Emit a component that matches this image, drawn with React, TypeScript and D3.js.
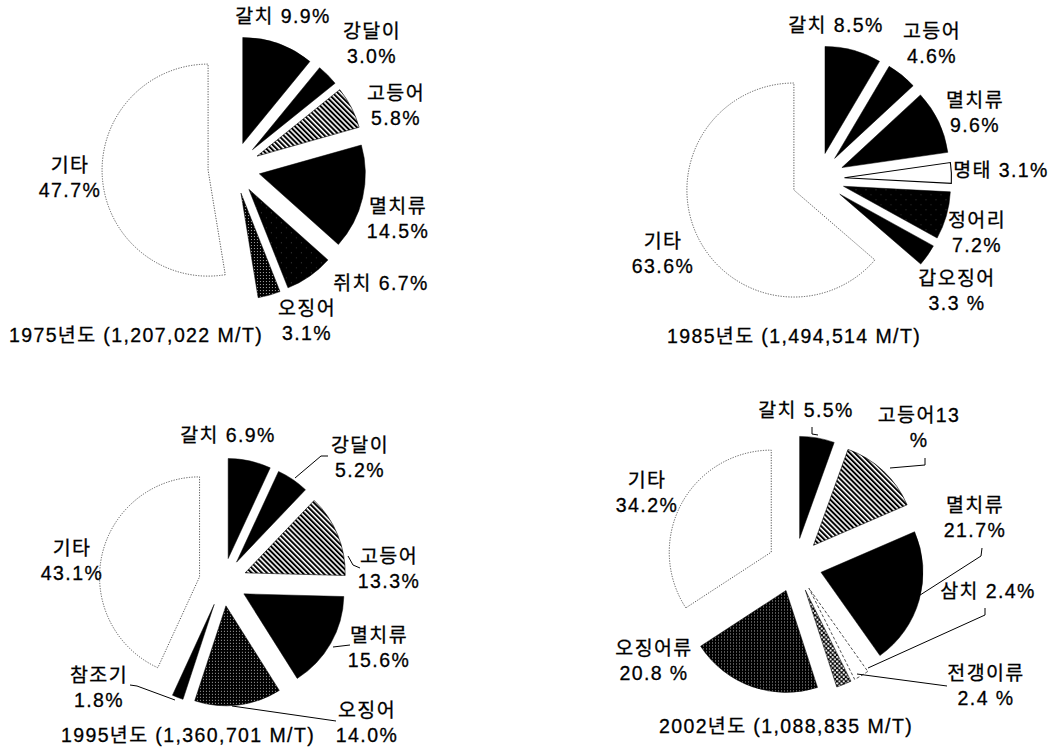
import React from 'react';
import * as d3 from 'd3';

// ---------- data ----------
const names1975 = ['갈치', '강달이', '고등어', '멸치류', '쥐치', '오징어', '기타'];
const values1975 = [9.9, 3.0, 5.8, 14.5, 6.7, 3.1, 47.7];
const labels1975 = [['갈치 9.9%'], ['강달이', '3.0%'], ['고등어', '5.8%'], ['멸치류', '14.5%'], ['쥐치 6.7%'], ['오징어', '3.1%'], ['기타', '47.7%']];
const title1975 = '1975년도 (1,207,022 M/T)';

const names1985 = ['갈치', '고등어', '멸치류', '명태', '정어리', '갑오징어', '기타'];
const values1985 = [8.5, 4.6, 9.6, 3.1, 7.2, 3.3, 63.6];
const labels1985 = [['갈치 8.5%'], ['고등어', '4.6%'], ['멸치류', '9.6%'], ['명태 3.1%'], ['정어리', '7.2%'], ['갑오징어', '3.3 %'], ['기타', '63.6%']];
const title1985 = '1985년도 (1,494,514 M/T)';

const names1995 = ['갈치', '강달이', '고등어', '멸치류', '오징어', '참조기', '기타'];
const values1995 = [6.9, 5.2, 13.3, 15.6, 14.0, 1.8, 43.1];
const labels1995 = [['갈치 6.9%'], ['강달이', '5.2%'], ['고등어', '13.3%'], ['멸치류', '15.6%'], ['오징어', '14.0%'], ['참조기', '1.8%'], ['기타', '43.1%']];
const title1995 = '1995년도 (1,360,701 M/T)';

const names2002 = ['갈치', '고등어', '멸치류', '삼치', '전갱이류', '오징어류', '기타'];
const values2002 = [5.5, 13, 21.7, 2.4, 2.4, 20.8, 34.2];
const labels2002 = [['갈치 5.5%'], ['고등어13', '%'], ['멸치류', '21.7%'], ['삼치 2.4%'], ['전갱이류', '2.4 %'], ['오징어류', '20.8 %'], ['기타', '34.2%']];
const title2002 = '2002년도 (1,088,835 M/T)';

// ---------- styles / layout ----------
const kinds1975 = ['black', 'black', 'stripes', 'black', 'sparse', 'dots', 'other'];
const kinds1985 = ['black', 'black', 'black', 'outline', 'sparse', 'black', 'other'];
const kinds1995 = ['black', 'black', 'stripes', 'black', 'dots', 'black', 'other'];
const kinds2002 = ['black', 'stripes', 'black', 'dashed', 'checker', 'dots', 'other'];

const geo1975 = { cx: 234, cy: 168, r: 106, explode: 26 };
const geo1985 = { cx: 818, cy: 179, r: 107, explode: 26.5 };
const geo1995 = { cx: 223, cy: 582, r: 100, explode: 24 };
const geo2002 = { cx: 795, cy: 565, r: 102, explode: 27 };

const labelPos1975 = [[283, 23], [372, 38], [396, 100], [398, 213], [381, 290], [307, 315], [70, 172]];
const labelPos1985 = [[836, 32], [932, 38], [975, 107], [1001, 177], [977, 227], [957, 285], [663, 248]];
const labelPos1995 = [[228, 442], [360, 452], [389, 563], [379, 642], [367, 717], [99, 682], [72, 555]];
const labelPos2002 = [[806, 417], [919, 422], [975, 512], [988, 598], [986, 680], [654, 655], [647, 487]];

const titlePos1975 = [136, 342];
const titlePos1985 = [794, 343];
const titlePos1995 = [188, 742];
const titlePos2002 = [786, 733];

const leaders1975: number[][][] = [];
const leaders1985: number[][][] = [];
const leaders1995 = [
  [[328, 456], [321, 456], [295, 478]],
  [[360, 568], [353, 565], [348, 556]],
  [[350, 645], [333, 647]],
  [[336, 721], [232, 706]],
  [[130, 685], [137, 686], [175, 700]],
];
const leaders2002 = [
  [[812, 427], [812, 434], [818, 435]],
  [[925, 458], [925, 465], [890, 468]],
  [[982, 548], [981, 556], [917, 597]],
  [[985, 608], [985, 615], [868, 668]],
  [[947, 686], [857, 674]],
];

const FONT = "'Liberation Sans', 'Noto Sans CJK KR', sans-serif";
const FONT_SIZE = 19.5;
const LETTER = 1.4;
const LINE_H = 24.5;

function styleFor(kind: string) {
  switch (kind) {
    case 'black': return { fill: '#000', stroke: '#000', strokeWidth: 0.5 };
    case 'stripes': return { fill: 'url(#stripes)', stroke: '#000', strokeWidth: 0.6 };
    case 'sparse': return { fill: 'url(#sparse)', stroke: '#000', strokeWidth: 0.5 };
    case 'dots': return { fill: 'url(#dots)', stroke: '#000', strokeWidth: 0.5 };
    case 'checker': return { fill: 'url(#checker)', stroke: '#000', strokeWidth: 0.5 };
    case 'outline': return { fill: '#fff', stroke: '#000', strokeWidth: 1.1 };
    case 'dashed': return { fill: '#fff', stroke: '#222', strokeWidth: 0.8, strokeDasharray: '3 2' };
    default: return { fill: '#fff', stroke: '#444', strokeWidth: 0.9, strokeDasharray: '1.2 1.4' };
  }
}

type Geo = { cx: number; cy: number; r: number; explode: number };

function ExplodedPie(props: {
  geo: Geo; values: number[]; kinds: string[]; labels: string[][]; labelPos: number[][];
  leaders: number[][][]; title: string; titlePos: number[]; names: string[];
}) {
  const { geo, values, kinds, labels, labelPos, leaders, title, titlePos, names } = props;
  const arcs = d3.pie<number>().sort(null).value((d) => d)(values);
  const arcGen = d3.arc<d3.PieArcDatum<number>>().innerRadius(0).outerRadius(geo.r);
  const line = d3.line<number[]>().x((p) => p[0]).y((p) => p[1]);
  const textProps = {
    fontFamily: FONT, fontSize: FONT_SIZE, letterSpacing: LETTER, fill: '#000',
    stroke: '#000', strokeWidth: 0.3, textAnchor: 'middle' as const,
  };
  return (
    <g>
      {arcs.map((a, i) => {
        const mid = (a.startAngle + a.endAngle) / 2;
        const dx = geo.explode * Math.sin(mid);
        const dy = -geo.explode * Math.cos(mid);
        return (
          <path key={names[i]} d={arcGen(a) || ''} transform={`translate(${geo.cx + dx},${geo.cy + dy})`} {...styleFor(kinds[i])} />
        );
      })}
      {leaders.map((pts, i) => (
        <path key={'l' + i} d={line(pts) || ''} fill="none" stroke="#000" strokeWidth={1} />
      ))}
      {labels.map((lines, i) => (
        <text key={'t' + i} x={labelPos[i][0]} y={labelPos[i][1]} {...textProps}>
          {lines.map((ln, j) => (
            <tspan key={j} x={labelPos[i][0]} dy={j === 0 ? 0 : LINE_H}>{ln}</tspan>
          ))}
        </text>
      ))}
      <text x={titlePos[0]} y={titlePos[1]} {...textProps}>{title}</text>
    </g>
  );
}

export default function App() {
  return (
    <svg width={1061} height={749} style={{ position: 'absolute', left: 0, top: 0, background: '#fff' }}>
      <defs>
        <pattern id="stripes" width={3.6} height={3.6} patternUnits="userSpaceOnUse" patternTransform="rotate(-45)">
          <rect width={3.6} height={3.6} fill="#fff" />
          <rect width={2} height={3.6} fill="#000" />
        </pattern>
        <pattern id="dots" width={3} height={3} patternUnits="userSpaceOnUse">
          <rect width={3} height={3} fill="#000" />
          <rect x={1} y={1} width={1} height={1} fill="#aaa" />
        </pattern>
        <pattern id="sparse" width={10} height={10} patternUnits="userSpaceOnUse">
          <rect width={10} height={10} fill="#000" />
          <rect x={2} y={3} width={1} height={1} fill="#444" />
          <rect x={7} y={8} width={1} height={1} fill="#333" />
        </pattern>
        <pattern id="checker" width={4.4} height={4.4} patternUnits="userSpaceOnUse">
          <rect width={4.4} height={4.4} fill="#000" />
          <circle cx={1.1} cy={1.1} r={1.1} fill="#fff" />
          <circle cx={3.3} cy={3.3} r={1.1} fill="#fff" />
        </pattern>
      </defs>
      <rect width={1061} height={749} fill="#fff" />
      <ExplodedPie geo={geo1975} values={values1975} kinds={kinds1975} labels={labels1975} labelPos={labelPos1975}
        leaders={leaders1975} title={title1975} titlePos={titlePos1975} names={names1975} />
      <ExplodedPie geo={geo1985} values={values1985} kinds={kinds1985} labels={labels1985} labelPos={labelPos1985}
        leaders={leaders1985} title={title1985} titlePos={titlePos1985} names={names1985} />
      <ExplodedPie geo={geo1995} values={values1995} kinds={kinds1995} labels={labels1995} labelPos={labelPos1995}
        leaders={leaders1995} title={title1995} titlePos={titlePos1995} names={names1995} />
      <ExplodedPie geo={geo2002} values={values2002} kinds={kinds2002} labels={labels2002} labelPos={labelPos2002}
        leaders={leaders2002} title={title2002} titlePos={titlePos2002} names={names2002} />
    </svg>
  );
}
